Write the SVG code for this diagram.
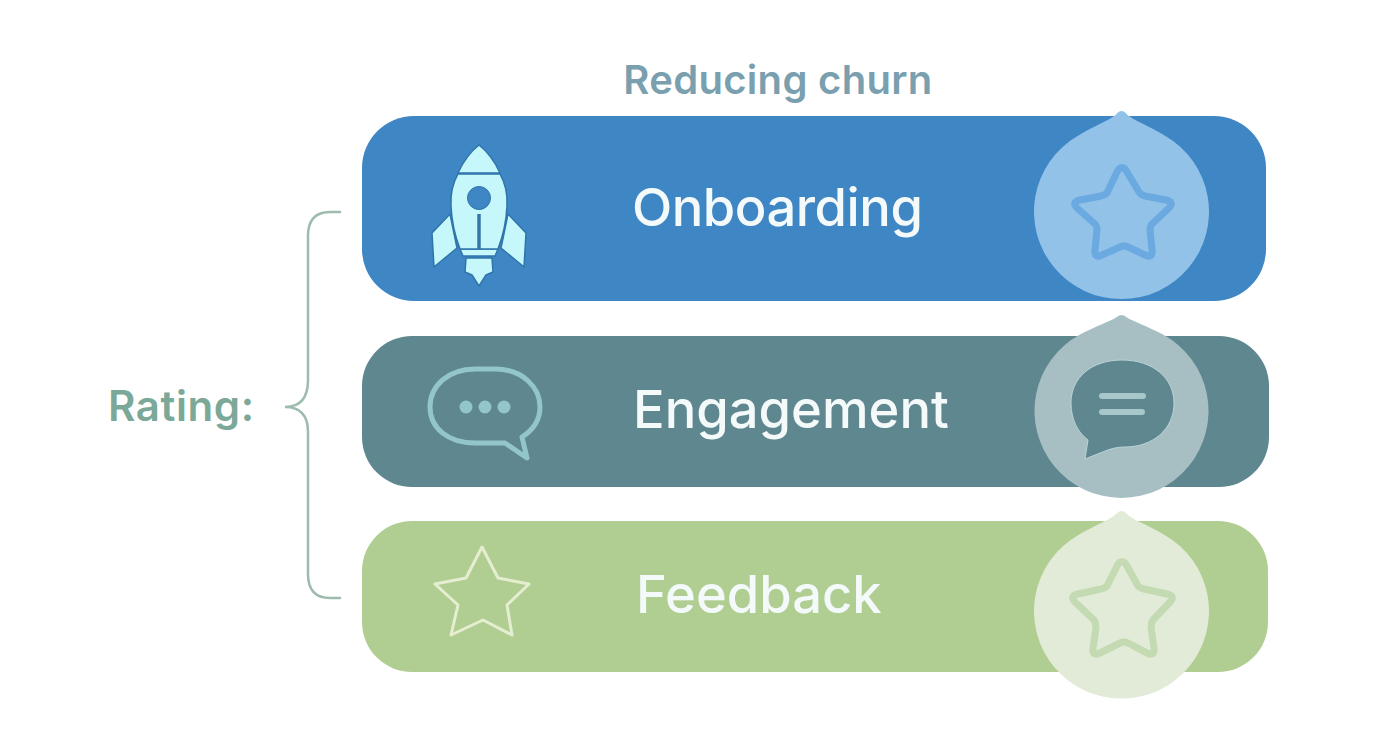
<svg xmlns="http://www.w3.org/2000/svg" width="1392" height="752" viewBox="0 0 1392 752">
<style>
.t{font-family:Inter,"Liberation Sans",sans-serif}
.h{font-weight:600}
.n{font-size:52.500px;font-weight:500;fill:#f4f9fa}
.rk{fill:#c6f7fb;stroke:#2f75aa;stroke-width:1.500;stroke-linejoin:round}
</style>
<rect width="1392" height="752" fill="#fff"/>
<text class="t h" x="778" y="94" text-anchor="middle" font-size="40" letter-spacing="0.300" fill="#7a9fae">Reducing churn</text>
<text class="t h" x="108" y="421" font-size="42" letter-spacing="0.600" fill="#7ba898">Rating:</text>
<g id="connectors"><path d="M340 212H330Q308 212 308 236V380Q308 407 285 407Q308 407 308 432V574Q308 598 330 598H340" fill="none" stroke="#9dbcae" stroke-width="2.500" stroke-linecap="round"/></g>
<g id="onboarding">
<rect x="362" y="116" width="904" height="185" rx="52" fill="#3f86c5"/>
<g id="rocket">
<path class="rk" d="M450 214L432 233L434 267L457 248Z"/>
<path class="rk" d="M508 214L526 233L524 267L501 248Z"/>
<path class="rk" d="M466 258H492L493 272L486 275L479 286L472 275L465 272Z"/>
<path class="rk" d="M460 249H498L495 256H463Z"/>
<path class="rk" d="M458 174Q450 188 451 206Q452 228 460 249H498Q506 228 507 206Q508 188 500 174Z"/>
<path class="rk" d="M458 173H500C494 160 488 152 479 145C470 152 464 160 458 173Z"/>
<circle cx="479" cy="198" r="11.500" fill="#3f86c5" stroke="#2f75aa" stroke-width="1"/>
<path d="M479 214V249" stroke="#3577a8" stroke-width="3.500"/>
</g>
<text class="t n" x="632" y="226" letter-spacing="-0.500">Onboarding</text>
<path d="M1121.500 111Q1124.500 111 1127 114.500C1133 120 1148 125.500 1165 135.700A87.500 87.500 0 1 1 1078 135.700C1095 125.500 1110 120 1116 114.500Q1118.500 111 1121.500 111Z" fill="#93c2e8"/>
<path d="M1117 172Q1122 163 1127 172L1139 192Q1141 195 1145 196L1166 200Q1175 202 1169 208L1152 224Q1150 226 1150 230L1152 250Q1153 259 1145 255L1128 247Q1124 245 1120 247L1102 255Q1094 259 1095 250L1097 230Q1097 226 1095 224L1077 208Q1071 202 1080 200L1101 196Q1105 195 1107 193Z" fill="none" stroke="#6aaae0" stroke-width="7" stroke-linejoin="round"/>
</g>
<g id="engagement">
<rect x="362" y="336" width="907" height="151" rx="50" fill="#5f8790"/>
<g id="bubble-left" fill="none" stroke="#93c6cb" stroke-width="5" stroke-linejoin="round">
<path d="M475 369H495C522 369 540 387 540 407C540 420 533 430 522 437L527 458L505 443H475C448 443 430 428 430 407C430 386 448 369 475 369Z"/>
</g>
<circle cx="466" cy="407" r="6.500" fill="#93c6cb"/><circle cx="485" cy="407" r="6.500" fill="#93c6cb"/><circle cx="504" cy="407" r="6.500" fill="#93c6cb"/>
<text class="t n" x="633" y="428">Engagement</text>
<path d="M1121.500 315Q1124.500 315 1127 317.500C1134 322 1147 326 1163 334.500A87 87 0 1 1 1080 334.500C1096 326 1109 322 1116 317.500Q1118.500 315 1121.500 315Z" fill="#a7bfc2"/>
<path d="M1122 360C1153 360 1174 378 1174 403C1174 430 1152 447 1125 447C1116 447 1110 449 1100 453L1085 459L1088 440C1077 432 1071 418 1071 403C1071 378 1091 360 1122 360Z" fill="#5f8790" stroke="#b8d4d6" stroke-width="1"/>
<path d="M1102 396H1143M1102 412H1142" stroke="#a7c7cb" stroke-width="6" stroke-linecap="round"/>
</g>
<g id="feedback">
<rect x="362" y="521" width="906" height="151" rx="50" fill="#b0ce91"/>
<path d="M482 547L498 578L529 584L507 605L512 635L483 620L451 635L458 605L435 584L466 578Z" fill="none" stroke="#e6eed2" stroke-width="3" stroke-linejoin="round"/>
<text class="t n" x="636" y="613">Feedback</text>
<path d="M1121.500 511Q1124.500 511 1127 514C1133 520 1148 525 1165 535.200A87.500 87.500 0 1 1 1078 535.200C1095 525 1110 520 1116 514Q1118.500 511 1121.500 511Z" fill="#e1ebd8"/>
<path d="M1117 566Q1122 557 1127 566L1138 586Q1140 588 1144 589L1167 594Q1176 596 1170 602L1153 620Q1151 623 1151 627L1154 648Q1155 657 1147 653L1128 643Q1124 641 1120 643L1100 653Q1092 657 1093 648L1096 627Q1096 623 1094 620L1075 602Q1069 596 1078 594L1101 589Q1105 588 1107 586Z" fill="none" stroke="#c4dab2" stroke-width="7" stroke-linejoin="round"/>
</g>
</svg>
